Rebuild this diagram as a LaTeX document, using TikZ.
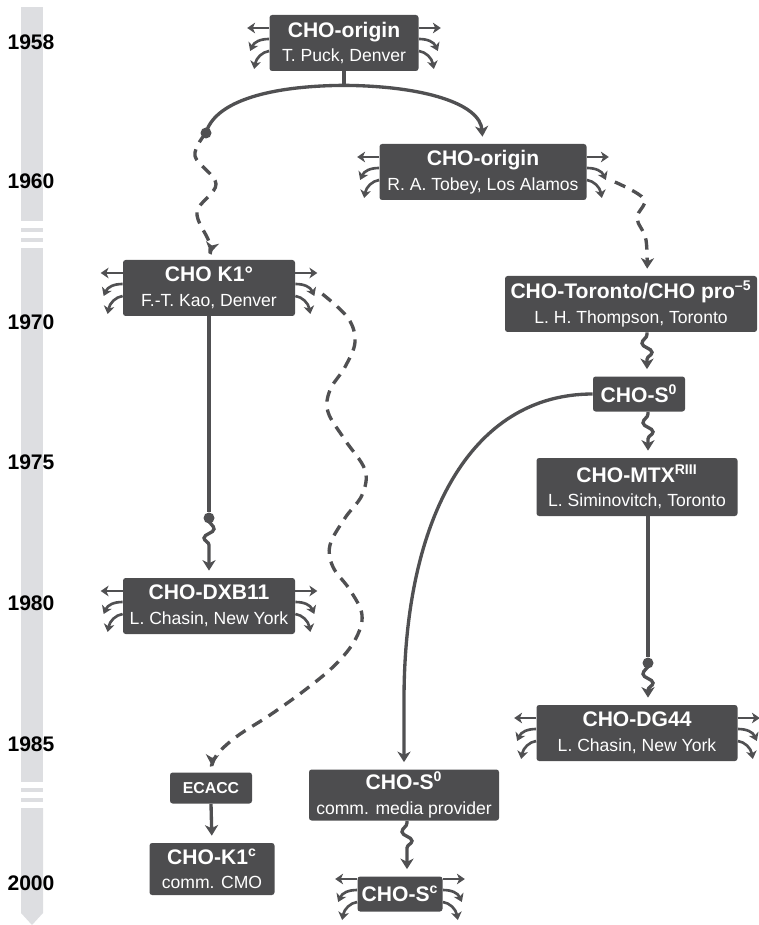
\documentclass[tikz,border=0pt]{standalone}
\usepackage{fontspec}
\setmainfont{Liberation Sans}
\usetikzlibrary{arrows.meta,calc}

\definecolor{boxgray}{RGB}{77,77,79}
\definecolor{linegray}{RGB}{80,80,82}
\definecolor{bargray}{RGB}{221,222,225}

\newcommand\ttl[1]{{\bfseries\fontsize{12}{14}\selectfont #1}}

% three little arrows on both sides of a cell
\newcommand\spreadout[1]{%
  \foreach \side/\dir in {west/1,east/-1}{
    \begin{scope}[shift={(#1.\side)},xscale=\dir]
      \draw[spread] (0,-15) -- (-22,-15);
      \draw[spread] (0,-4) .. controls (-9,-4) and (-15,-1) .. (-19,8);
      \draw[spread] (0,8) .. controls (-7,9) and (-13,15) .. (-15,26);
    \end{scope}}}

\tikzset{
  cell/.style={fill=boxgray, text=white, rounded corners=1.5pt, align=center,
    inner sep=0pt, minimum height=56*0.02cm, font=\fontsize{10}{14}\selectfont},
  wd/.style={minimum width=#1*0.02cm},
  ht/.style={minimum height=#1*0.02cm},
  conn/.style={draw=linegray, line width=1.9pt,
    -{Stealth[length=6pt,width=7.5pt,inset=1.8pt]}, shorten >=4pt},
  dashconn/.style={conn, dash pattern=on 6.5pt off 4.5pt},
  plain/.style={draw=linegray, line width=1.9pt},
  spread/.style={draw=linegray, line width=1.5pt,
    -{Stealth[length=4.5pt,width=6pt,inset=1.3pt]}},
  knot/.style={circle, fill=linegray, inner sep=0pt, minimum size=11*0.02cm},
  year/.style={font=\bfseries\fontsize{12}{12}\selectfont},
  wig/.style={to path={-- ++(0,2)
    .. controls +(0,4) and +(0,-4) .. ++({-5*(#1)},9)
    .. controls +(0,4) and +(0,-4) .. ++({10*(#1)},9)
    .. controls +(0,3) and +(0,-3) .. ++({-5*(#1)},7) -- (\tikztotarget)}},
}

\begin{document}
\begin{tikzpicture}[x=0.02cm,y=-0.02cm]
  \useasboundingbox (0,0) rectangle (759,925);

  % time bar
  \fill[bargray] (21,7) rectangle (43,221);
  \fill[bargray] (21,228) rectangle (43,232);
  \fill[bargray] (21,238) rectangle (43,242);
  \fill[bargray] (21,248) rectangle (43,782);
  \fill[bargray] (21,788) rectangle (43,792);
  \fill[bargray] (21,798) rectangle (43,802);
  \fill[bargray] (21,808) -- (43,808) -- (43,913) -- (32,925) -- (21,913) -- cycle;
  \foreach \yr/\py in {1958/42,1960/181,1970/322,1975/462,1980/603,1985/744,2000/883}
    \node[year] (y\yr) at (31,\py) {\yr};

  % cell lines
  \node[cell, wd=149] (n1) at (344,43) {\ttl{CHO-origin}\\T. Puck, Denver};
  \node[cell, wd=207] (n2) at (483,172) {\ttl{CHO-origin}\\R. A. Tobey, Los Alamos};
  \node[cell, wd=172] (n3) at (209,288) {\ttl{CHO K1°}\\F.-T. Kao, Denver};
  \node[cell, wd=252] (n4) at (631,304) {\ttl{CHO-Toronto/CHO pro\textsuperscript{–5}}\\L. H. Thompson, Toronto};
  \node[cell, wd=92, ht=35] (n5) at (639,394) {\ttl{CHO-S\textsuperscript{0}}};
  \node[cell, wd=201, ht=58] (n6) at (637,487) {\ttl{CHO-MTX\textsuperscript{RIII}}\\L. Siminovitch, Toronto};
  \node[cell, wd=172] (n7) at (209,606) {\ttl{CHO-DXB11}\\L. Chasin, New York};
  \node[cell, wd=201] (n8) at (637,733) {\ttl{CHO-DG44}\\L. Chasin, New York};
  \node[cell, wd=82, ht=31] (n9) at (211,788) {{\bfseries\fontsize{9}{10}\selectfont ECACC}};
  \node[cell, wd=125, ht=52] (n10) at (212,869) {\ttl{CHO-K1\textsuperscript{c}}\\comm. CMO};
  \node[cell, wd=190, ht=51] (n11) at (404,795) {\ttl{CHO-S\textsuperscript{0}}\\comm. media provider};
  \node[cell, wd=85, ht=35] (n12) at (400,894) {\ttl{CHO-S\textsuperscript{c}}};

  \spreadout{n1}
  \spreadout{n2}
  \spreadout{n3}
  \spreadout{n7}
  \spreadout{n8}
  \spreadout{n12}

  \coordinate (fork) at ($(n1.south)+(0,14)$);
  \coordinate (n2out) at ($(n2.east)+(28,10)$);
  \coordinate (n4in) at ($(n4.north)+(16,0)$);
  \coordinate (n3out) at ($(n3.east)+(27,6)$);
  \node[knot] (dotL) at (206,133) {};
  \node[knot] (dotK) at (209,518) {};
  \node[knot] (dotM) at (648,663) {};

  % connectors
  \draw[plain] (n1.south) -- (fork);
  \draw[plain] (fork) .. controls (262,86) and (214,104) .. (dotL.center);
  \draw[conn] (fork) .. controls (425,86) and (480,104) .. (n2.north);
  \draw[dashconn] plot[smooth, tension=0.6] coordinates
    {(dotL.center) (195,156) (216,184) (197,212) (209,242) (n3.north)};
  \draw[dashconn] plot[smooth, tension=0.6] coordinates
    {(n2out) (644,199) (637,218) (646,240) (n4in)};
  \draw[conn] ($(n4.south)+(16,0)$) to[wig=1] ($(n5.north)+(8,0)$);
  \draw[conn] ($(n5.south)+(9,0)$) to[wig=1] ($(n6.north)+(11,0)$);
  \draw[plain] (n6.south -| dotM) -- (dotM);
  \draw[conn] (dotM.center) to[wig=1] (n8.north -| dotM);
  \draw[plain] (n3.south) -- (dotK);
  \draw[conn] (dotK.center) to[wig=-1] (n7.north);
  \draw[dashconn] plot[smooth, tension=0.6] coordinates
    {(n3out) (348,318) (355,342) (345,367) (330,390) (328,412) (345,440)
     (365,470) (362,495) (345,518) (330,545) (333,567) (350,590) (362,615)
     (355,640) (335,665) (305,690) (270,715) (236,737) (216,756) (n9.north)};
  \draw[conn] (n9.south) -- (n10.north);
  \draw[conn] (n5.west) .. controls (470,394) and (404,520) .. (404,700) -- (n11.north);
  \draw[conn] ($(n11.south)+(3,0)$) to[wig=1] ($(n12.north)+(7,0)$);
\end{tikzpicture}
\end{document}
